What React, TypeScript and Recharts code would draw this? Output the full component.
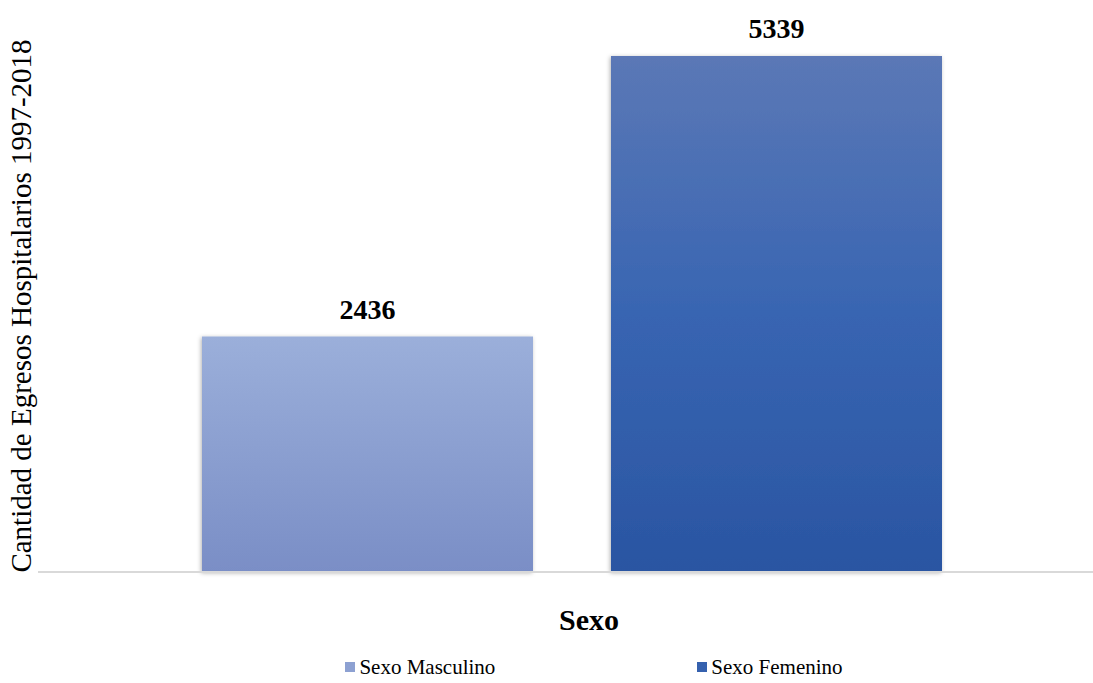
import React from 'react';
import { BarChart, Bar, XAxis, YAxis, LabelList } from 'recharts';

// data
const categories = ['Sexo'];
const seriesNames = ['Sexo Masculino', 'Sexo Femenino'];
const masculino = [2436];
const femenino = [5339];
const legendColors = ['#8DA1D2', '#3561AE'];

const data = categories.map((c, i) => ({
  name: c,
  masc: masculino[i],
  fem: femenino[i],
}));

const serif = '"Liberation Serif", "Times New Roman", serif';

const App: React.FC = () => {
  return (
    <div
      style={{
        position: 'absolute',
        left: 0,
        top: 0,
        width: 1093,
        height: 683,
        overflow: 'hidden',
        background: '#fff',
        fontFamily: serif,
      }}
    >
      <BarChart
        width={1106}
        height={683}
        data={data}
        margin={{ top: 56, right: 0, left: 38, bottom: 110 }}
        barSize={331}
        barGap={78}
      >
        <defs>
          <linearGradient id="gMasc" x1="0" y1="0" x2="0" y2="1">
            <stop offset="0%" stopColor="#9BAFDA" />
            <stop offset="100%" stopColor="#7A8EC6" />
          </linearGradient>
          <linearGradient id="gFem" x1="0" y1="0" x2="0" y2="1">
            <stop offset="0%" stopColor="#5B78B6" />
            <stop offset="50%" stopColor="#3865B2" />
            <stop offset="100%" stopColor="#2A55A2" />
          </linearGradient>
          <filter id="shadow" x="-5%" y="-5%" width="110%" height="110%">
            <feDropShadow dx="-1" dy="1" stdDeviation="2" floodColor="#000" floodOpacity="0.3" />
          </filter>
        </defs>
        <XAxis
          dataKey="name"
          tick={false}
          tickLine={false}
          height={1}
          axisLine={{ stroke: '#D9D9D9', strokeWidth: 2 }}
        />
        <YAxis hide domain={[0, 5339]} />
        <Bar
          dataKey="masc"
          name={seriesNames[0]}
          fill="url(#gMasc)"
          style={{ filter: 'url(#shadow)' }}
          isAnimationActive={false}
        >
          <LabelList
            dataKey="masc"
            position="top"
            offset={18}
            fill="#000"
            fontSize={28}
            fontWeight="bold"
            fontFamily={serif}
          />
        </Bar>
        <Bar
          dataKey="fem"
          name={seriesNames[1]}
          fill="url(#gFem)"
          style={{ filter: 'url(#shadow)' }}
          isAnimationActive={false}
        >
          <LabelList
            dataKey="fem"
            position="top"
            offset={18}
            fill="#000"
            fontSize={28}
            fontWeight="bold"
            fontFamily={serif}
          />
        </Bar>
      </BarChart>
      <div
        style={{
          position: 'absolute',
          left: 21,
          top: 306,
          transform: 'translate(-50%, -50%) rotate(-90deg)',
          whiteSpace: 'nowrap',
          fontSize: 29,
          color: '#000',
          lineHeight: 1,
        }}
      >
        Cantidad de Egresos Hospitalarios 1997-2018
      </div>
      <div
        style={{
          position: 'absolute',
          left: 589,
          top: 620,
          transform: 'translate(-50%, -50%)',
          whiteSpace: 'nowrap',
          fontSize: 30,
          fontWeight: 'bold',
          color: '#000',
          lineHeight: 1,
        }}
      >
        Sexo
      </div>
      <div
        style={{
          position: 'absolute',
          left: 4,
          top: 655,
          width: 1180,
          display: 'flex',
          justifyContent: 'center',
          fontSize: 21,
          lineHeight: '24px',
        }}
      >
        {seriesNames.map((n, i) => (
          <div
            key={`leg-${i}`}
            style={{ display: 'flex', alignItems: 'center', marginRight: i === 0 ? 202 : 0 }}
          >
            <span
              style={{
                display: 'inline-block',
                width: 10,
                height: 10,
                background: legendColors[i],
                marginRight: 4,
              }}
            />
            <span style={{ color: '#000' }}>{n}</span>
          </div>
        ))}
      </div>
    </div>
  );
};

export default App;
